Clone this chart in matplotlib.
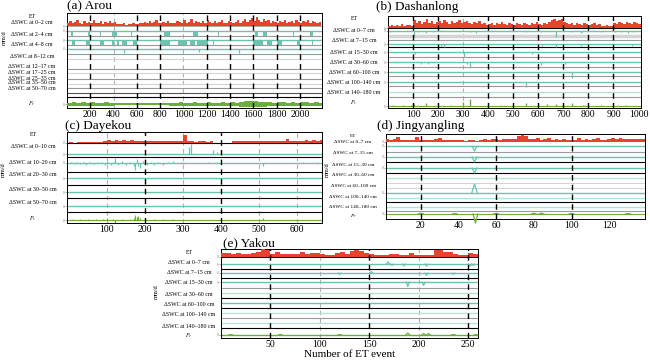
import numpy as np
import matplotlib
matplotlib.use('Agg')
import matplotlib.pyplot as plt

plt.rcParams['font.family'] = ['Liberation Serif', 'DejaVu Serif']
plt.rcParams['mathtext.fontset'] = 'stix'

# ---------------- data ----------------
# Arou
arou_rows = ['ET', 'ΔSWC at 0–2 cm', 'ΔSWC at 2–4 cm', 'ΔSWC at 4–8 cm', 'ΔSWC at 8–12 cm',
             'ΔSWC at 12–17 cm', 'ΔSWC at 17–25 cm', 'ΔSWC at 25–35 cm', 'ΔSWC at 35–50 cm',
             'ΔSWC at 50–70 cm', '$P_r$']
arou_et = [3, 5, 3, 4, 6, 3, 2, 5, 3, 4, 3, 6, 3, 3, 5, 2, 4, 3, 5, 3, 4, 2,
           2, 2, 3, 1.5, 2, 2, 3, 2, 2, 3,
           3, 4, 3, 5, 3, 4, 6, 3, 3, 4, 3, 5, 3, 3,
           3, 5, 4, 3, 6, 3, 4, 7, 3, 5, 4, 3, 5, 3, 6, 4, 3, 5, 3, 4, 6, 3, 3, 5, 4, 3,
           4, 6, 3, 5, 7, 4, 6, 8, 5, 9, 6, 4, 7, 5, 6, 3, 5, 4,
           3, 5, 4, 6, 3, 4, 5, 3, 6, 4, 3, 5, 4, 6, 3, 5, 4, 3, 4]          # 20-event bins
arou_2_4_start = [37, 177, 286, 314, 386, 506, 551, 600, 829, 986, 1086, 1300, 1614, 1686, 1871, 1943, 2086]
arou_2_4_end = [51, 200, 290, 318, 429, 510, 555, 604, 886, 990, 1129, 1304, 1643, 1714, 1875, 1947, 2114]
arou_4_8_start = [43, 166, 286, 386, 429, 471, 571, 657, 700, 800, 957, 1057, 1114, 1257, 1314, 1400,
                  1486, 1600, 1714, 1800, 1871, 1971, 2100]
arou_4_8_end = [71, 200, 314, 400, 443, 514, 600, 661, 704, 886, 1029, 1100, 1214, 1261, 1318, 1404,
                1490, 1686, 1757, 1843, 1875, 2000, 2114]
arou_8_12_event = [486, 1137, 1480]
arou_8_12_val = [-4, -3, -4]
arou_pr = [3, 3.5, 3, 4, 3, 3.5, 3, 3, 4, 3,
           2, 2, 2.5, 2, 2, 1.5, 2, 2.5, 2, 2, 2.5, 2,
           3, 3, 3.5, 3, 3, 4, 3, 3, 3.5, 3, 3, 4, 3, 3.5, 3,
           5, 6, 5.5, 6, 5, 5,
           3.5, 3, 4, 3.5, 3, 4, 3, 3.5, 4, 3, 3.5, 3]                       # 40-event bins

# Dashanlong
dsl_rows = ['ET', 'ΔSWC at 0–7 cm', 'ΔSWC at 7–15 cm', 'ΔSWC at 15–30 cm', 'ΔSWC at 30–60 cm',
            'ΔSWC at 60–100 cm', 'ΔSWC at 100–140 cm', 'ΔSWC at 140–180 cm', '$P_r$']
dsl_et = [2, 3, 2, 3, 2, 4, 2, 3, 3, 2,
          8, 5, 7, 4, 6, 9, 5, 7, 4, 6,
          7, 5, 8, 6, 4, 7, 5, 6, 8, 5,
          6, 7, 5, 4, 6, 5, 7, 4, 5, 3,
          4, 5, 3, 5, 4, 6, 4, 3, 5, 4,
          3, 5, 4, 3, 5, 4, 3, 5, 4, 6,
          4, 3, 5, 4, 6, 8, 9, 7, 8, 9,
          6, 5, 4, 5, 3, 5, 4, 3, 5, 4,
          3, 4, 5, 3, 4, 2, 2, 3, 2, 2,
          5, 4, 6, 5, 4, 6, 5, 4, 6, 5, 4]                                  # 10-event bins
dsl_0_7_event = [8, 105, 120, 150, 180, 210, 330, 350, 550, 610, 669, 730, 769, 775, 850, 905, 930, 960, 980]
dsl_0_7_val = [-1, -6, -1, -1.5, -1, 1, -1, -1.5, -1, -1, -5.5, -1, -1.5, -1, -1, -1, -1, -1.5, -1]
dsl_7_15_event = [211, 223, 616, 669, 769, 975]
dsl_7_15_val = [-2, -3, -2, -2.5, -1.5, -2]
dsl_15_30_event = [109, 304, 576]
dsl_15_30_val = [-1.5, -5, -2]
dsl_30_60_event = [131, 158, 317, 327, 610, 706]
dsl_30_60_val = [-2, -2, -2, -6, -2.5, -2]
dsl_60_100_event = [733]
dsl_60_100_val = [-6]
dsl_100_140_event = [550]
dsl_100_140_val = [-5]
dsl_pr_event = [20, 60, 90, 105, 151, 200, 250, 301, 327, 400, 450, 500, 550, 600, 636, 669, 700, 736,
                780, 850, 900, 950]
dsl_pr_val = [1, 1, 1, 2, 3, 1, 1, 4, 7, 1, 1, 1, 3.5, 1, 2.5, 2, 1, 3.5, 1, 1, 1, 1]

# Dayekou
dyk_rows = ['ET', 'ΔSWC at 0–10 cm', 'ΔSWC at 10–20 cm', 'ΔSWC at 20–30 cm', 'ΔSWC at 30–50 cm',
            'ΔSWC at 50–70 cm', '$P_r$']
dyk_et = [1, 0.5, 1, 1.5, 1, 1, 1.5, 1, 1.5,
          2.5, 3, 2.5, 3, 2, 3, 2.5, 3, 2.5,
          2, 2.5, 2, 2.5, 2, 2, 2.5, 2, 2.5, 2, 2, 2.5,
          8, 2,
          2, 1.5, 2, 2, 1.5, 2,
          0, 0, 0, 0, 0,
          2, 2.5, 2, 2, 2.5, 2, 2, 2.5, 2, 2, 2.5, 2, 2, 2.5,
          4.5,
          2, 2.5, 2, 2.5, 3, 2.5, 3, 2.5, 3]                                # 10-event bins
dyk_0_10_event = [316, 320, 380, 389]
dyk_0_10_val = [7, 10, 4, 2]
dyk_10_20_event = [5, 15, 20, 30, 40, 46, 55, 65, 75, 85, 95, 100, 110, 115, 121, 130, 140, 150, 160,
                   170, 174, 178, 183, 187, 195, 205, 215, 225, 235, 248, 260, 274, 297, 366, 389, 511,
                   617, 652]
dyk_10_20_val = [1, -1, 1.5, -1, 1, -1.5, 1, -1, 1, 1.5, -2, 2, -1.5, 1.5, 5, -2, 2, -1.5, 1.5,
                 -3, -7, 4, -3, -5, 2, -1.5, 1, -2, 1.5, -2, 1, 2, 1, 1, 1, -3, 1, 1]
dyk_pr_event = [10, 30, 50, 70, 90, 100, 115, 121, 140, 160, 170, 174, 178, 183, 187, 200, 225, 248, 274, 511]
dyk_pr_val = [1, 1, 1.5, 1, 1, 2, 1.5, -3, 1, 1.5, 2, 5, 3, 4, 2, 1, 1, 1.5, 1, 2.5]

# Jingyangling
jyl_rows = dsl_rows
jyl_et = [2.5, 2, 2.5, 5, 2, 2, 1.5, 2, 4.5, 2, 1.5, 2, 2, 2.5, 3.5, 1.5, 1.5, 2, 1.5, 1.5, 2, 1,
          1.5, 1.5, 1, 2, 2.5, 2, 2.5, 3, 2, 2.5, 2.5, 3, 2.5, 6, 6.5, 6, 3, 2.5, 3.5, 2, 3, 3.5,
          2, 2.5, 2, 2.5, 2, 1.5, 2, 4, 2, 2.5, 2, 2.5, 3.5, 2, 2, 3, 3.5, 3, 3.5, 3, 2.5, 3, 2.5,
          3, 2.5]                                                            # 2-event bins from 1
jyl_dip_event = [48.5]
jyl_dip_val = [-5]
jyl_60_100_val = [9]
jyl_pr_event = [20, 38, 49, 60, 80, 84, 100, 130]
jyl_pr_val = [0.7, 0.5, -9, 0.7, 0.8, 0.8, 0.6, 0.5]

# Yakou
yk_rows = dsl_rows
yk_et = [4.5, 4, 3, 4, 3.5, 3.5, 4, 5.5, 8, 7, 3, 5, 3.5, 3, 3.5, 3, 5, 3, 4, 4.5, 3, 2.5, 2, 4, 5.5,
         3, 6, 7, 6.5, 4, 3, 2, 2, 2, 3, 3.5, 2, 2, 4.5, 2, 2, 2, 2, 7, 7, 5, 5.5, 3, 2, 2, 4, 3]  # 5-event bins
yk_0_7_event = [169, 173, 185, 208, 252, 255]
yk_0_7_val = [2, -1.5, -2, -2, -2, -1.5]
yk_7_15_event = [120, 152, 208, 235]
yk_7_15_val = [-1.5, 1.5, -2.5, -1.5]
yk_15_30_event = [189, 205]
yk_15_30_val = [-4.5, -3.5]
yk_pr_event = [10, 60, 120, 189, 205, 210, 235, 258]
yk_pr_val = [0.5, 0.5, 0.5, 2, 1.5, 1.5, 0.5, 0.5]

# ---------------- styling ----------------
W, H = 650, 363
RED = '#e8432f'
TEAL = '#6cc4ae'
TEAL_LT = '#b9e3d9'
GREEN = '#6aaf3c'
GREY = '#9a9a9a'
GREY_LT = '#d4d4d4'
DASH = (0, (4, 3))

fig = plt.figure(figsize=(W / 100, H / 100), dpi=100)


def fx(x):
    return x / W


def fy(y):
    return 1 - y / H


def panel(box, xlim, xticks, dark, light):
    l, r, t, b = box
    ax = fig.add_axes([fx(l), fy(b), (r - l) / W, (b - t) / H])
    ax.set_xlim(*xlim)
    ax.set_ylim(b, t)          # y in pixel rows of the figure
    ax.set_xticks(xticks)
    ax.tick_params(axis='x', labelsize=7, length=0, pad=1.5)
    ax.tick_params(axis='y', labelsize=2.5, length=1.2, width=0.4, pad=0.8, colors='#777777')
    for s in ax.spines.values():
        s.set_linewidth(0.7)
    for x in dark:
        ax.axvline(x, color='k', lw=1.0, ls=DASH, zorder=5)
    for x in light:
        ax.axvline(x, color='#b0b0b0', lw=0.8, ls=DASH, zorder=1)
    return ax


def hlines(ax, lines):
    for y, c, lw in lines:
        ax.axhline(y, color=c, lw=lw, zorder=1)


def labels(names, cx, ys, title, tpos, ylab=None, size=4.2):
    for n, y in zip(names, ys):
        fig.text(fx(cx), fy(y), n, ha='center', va='center', fontsize=size)
    fig.text(fx(tpos[0]), fy(tpos[1]), title, ha='left', va='center', fontsize=9.5)
    if ylab is not None:
        fig.text(fx(ylab[0]), fy(ylab[1]), 'mm/d', rotation=90, ha='center', va='center', fontsize=4.5)


def et_bars(ax, vals, base, start, width):
    x = start + width * (np.arange(len(vals)) + 0.5)
    ax.bar(x, -np.array(vals, float), bottom=base, width=width, color=RED, lw=0, zorder=3)


def spikes(ax, ev, val, base, color=TEAL, lw=0.9):
    ax.vlines(ev, base, base - np.array(val, float), color=color, lw=lw, zorder=3)


def vees(ax, ev, val, base, half, color=TEAL, lw=0.9):
    for e, v in zip(ev, val):
        ax.plot([e - half, e, e + half], [base, base - v, base], color=color, lw=lw,
                zorder=3, clip_on=False)


def small_yticks(ax, ys):
    ax.set_yticks(ys)
    ax.set_yticklabels(['0'] * len(ys))


# ---------------- (a) Arou ----------------
ax = panel((67, 322, 13, 108), (0, 2190), range(200, 2001, 200),
           [200, 600, 800, 1200, 1400, 1600, 1800, 2000], [400, 1000])
hlines(ax, [(26, GREY, 0.6), (31, TEAL, 1.0), (36, GREY, 0.8), (40, TEAL, 1.0), (45, GREY, 0.8),
            (49, TEAL, 1.0), (54, GREY, 0.8), (59, GREY_LT, 0.8), (69, GREY, 0.8), (73, GREY_LT, 0.8),
            (79, GREY, 0.8), (84, GREY_LT, 0.8), (88, GREY, 0.8), (93, '#555555', 0.8), (97, 'k', 0.8)])
et_bars(ax, arou_et, 26, 0, 20)
ax.bar(arou_2_4_start, 5, width=np.array(arou_2_4_end) - np.array(arou_2_4_start), bottom=31,
       align='edge', color=TEAL, lw=0, zorder=3)
ax.bar(arou_4_8_start, 5, width=np.array(arou_4_8_end) - np.array(arou_4_8_start), bottom=40,
       align='edge', color=TEAL, lw=0, zorder=3)
spikes(ax, arou_8_12_event, arou_8_12_val, 49)
pr = np.array(arou_pr, float)
ax.bar(40 * (np.arange(len(pr)) + 0.5), pr, bottom=104 - pr / 2, width=40, color=GREEN, lw=0, zorder=3)
small_yticks(ax, [26, 31, 40, 49, 104])
labels(arou_rows, 32, [16, 23, 34, 44, 56, 66, 73, 78, 83, 89, 104], '(a) Arou', (67, 6), (4, 38))

# ---------------- (b) Dashanlong ----------------
ax = panel((388, 641, 16, 108), (0, 1010), range(100, 1001, 100),
           [100, 200, 400, 500, 600, 700, 800, 900], [300])
hlines(ax, [(28, 'k', 0.7), (31, TEAL, 1.0), (36, GREY_LT, 2.5), (40, GREY, 0.8), (44, TEAL, 1.0),
            (47, 'k', 0.8), (52, TEAL, 1.0), (57, GREY, 0.8), (62, TEAL, 1.0), (67, GREY, 0.8),
            (72, TEAL, 1.0), (76, GREY, 0.8), (82, TEAL, 1.0), (86, GREY, 0.8), (92, TEAL_LT, 1.0),
            (97, GREY, 0.8), (106, GREEN, 0.8)])
et_bars(ax, dsl_et, 28, 0, 10)
spikes(ax, dsl_0_7_event, dsl_0_7_val, 31)
spikes(ax, dsl_7_15_event, dsl_7_15_val, 44)
spikes(ax, dsl_15_30_event, dsl_15_30_val, 52)
spikes(ax, dsl_30_60_event, dsl_30_60_val, 62)
spikes(ax, dsl_60_100_event, dsl_60_100_val, 72)
spikes(ax, dsl_100_140_event, dsl_100_140_val, 82)
spikes(ax, dsl_pr_event, dsl_pr_val, 106, color=GREEN, lw=1.0)
small_yticks(ax, [28, 31, 44, 52, 62, 72, 82, 106])
labels(dsl_rows, 354, [19, 31, 41, 52, 62, 72, 82, 92, 103], '(b) Dashanlong', (376, 7))

# ---------------- (c) Dayekou ----------------
ax = panel((67, 322, 132, 223), (-5, 666), range(100, 601, 100), [200, 400], [100, 300, 500, 600])
hlines(ax, [(143, 'k', 0.8), (154, TEAL, 1.0), (157, 'k', 0.8), (163, TEAL, 1.0), (172, 'k', 0.8),
            (178, TEAL, 1.0), (185, 'k', 0.8), (192, TEAL, 1.0), (198, 'k', 0.8), (206, TEAL, 1.0),
            (212, 'k', 0.8), (220, GREEN, 0.8)])
et_bars(ax, dyk_et, 143, 0, 10)
spikes(ax, dyk_0_10_event, dyk_0_10_val, 154)
spikes(ax, dyk_10_20_event, dyk_10_20_val, 163)
spikes(ax, dyk_pr_event, dyk_pr_val, 220, color=GREEN)
small_yticks(ax, [143, 154, 163, 178, 192, 206, 220])
labels(dyk_rows, 33, [135, 147, 163, 175, 189, 203, 219], '(c) Dayekou', (65, 126), (3, 170))

# ---------------- (d) Jingyangling ----------------
ax = panel((386, 645, 134, 219), (1.5, 139), range(20, 121, 20), [20, 60, 100], [])
hlines(ax, [(146, TEAL, 1.0), (152, GREY, 0.8), (157, TEAL, 1.0), (162, 'k', 0.8), (168, TEAL, 1.0),
            (173, 'k', 0.8), (178, TEAL_LT, 1.0), (183, GREY_LT, 0.8), (188, GREY_LT, 0.8),
            (193, TEAL, 1.0), (198, TEAL_LT, 1.0), (202, 'k', 0.8), (207, TEAL_LT, 1.0),
            (211, GREY, 0.8), (214, GREEN, 0.8)])
et_bars(ax, jyl_et, 142, 1, 2)
for base in (146, 157, 168):
    vees(ax, jyl_dip_event, jyl_dip_val, base, 1.3)
vees(ax, jyl_dip_event, jyl_60_100_val, 193, 1.5)
vees(ax, jyl_pr_event, jyl_pr_val, 214, 1.3, color=GREEN)
small_yticks(ax, [142, 146, 157, 168, 193, 214])
labels(jyl_rows, 353, [136, 142, 153, 165, 175, 186, 197, 207, 216], '(d) Jingyangling', (377, 126),
       (327, 170), size=3.8)

# ---------------- (e) Yakou ----------------
ax = panel((221, 478, 249, 338), (0, 260), range(50, 251, 50), [50, 150, 250], [100, 200])
hlines(ax, [(257, 'k', 0.7), (264, TEAL, 1.0), (269, 'k', 0.8), (273, TEAL, 1.0), (278, 'k', 0.8),
            (282, TEAL, 1.0), (288, GREY, 0.8), (293, TEAL_LT, 1.0), (298, 'k', 0.8), (303, TEAL, 1.0),
            (308, 'k', 0.8), (313, TEAL_LT, 1.0), (318, GREY, 0.8), (323, TEAL_LT, 1.0), (328, 'k', 0.8),
            (335, GREEN, 1.0)])
et_bars(ax, yk_et, 257, 0, 5)
vees(ax, yk_0_7_event, yk_0_7_val, 264, 1.5)
vees(ax, yk_7_15_event, yk_7_15_val, 273, 1.5)
vees(ax, yk_15_30_event, yk_15_30_val, 282, 1.5)
vees(ax, yk_pr_event, yk_pr_val, 335, 2, color=GREEN)
small_yticks(ax, [257, 264, 273, 282, 335])
ax.set_xlabel('Number of ET event', fontsize=8, labelpad=1)
labels(yk_rows, 189, [252, 263, 273, 283, 294, 304, 315, 326, 336], '(e) Yakou', (223, 243), (156, 292))

fig.savefig('out.png', dpi=100)
